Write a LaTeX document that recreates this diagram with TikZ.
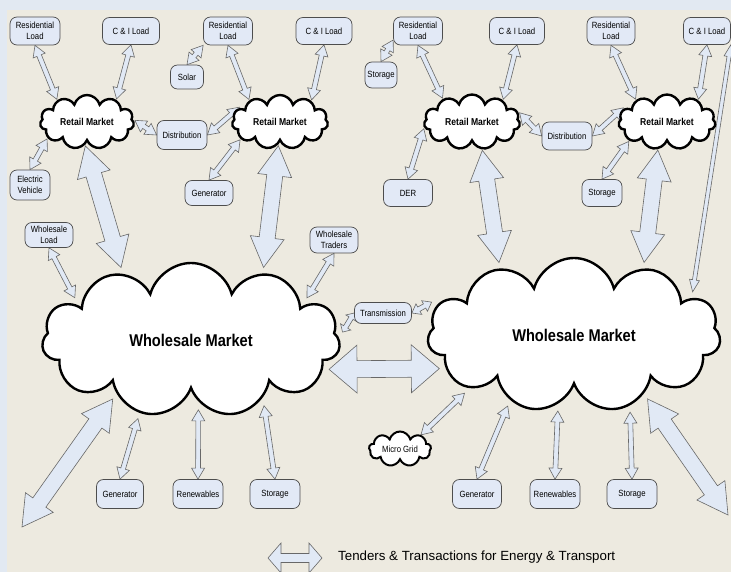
\documentclass[tikz,border=0pt]{standalone}
\usepackage{fontspec}
\setmainfont{Liberation Sans}
\newfontfamily\narrowsf[FakeStretch=0.86]{Liberation Sans}
\usetikzlibrary{calc,shapes.symbols}
\definecolor{paper}{HTML}{EDEAE0}
\definecolor{strip}{HTML}{E2E9F2}
\definecolor{boxfill}{HTML}{E2E9F6}
\definecolor{flowfill}{HTML}{E1E9F5}
\definecolor{edge}{HTML}{4D4D4D}
\pgfdeclarelayer{back}
\pgfdeclarelayer{flows}
\pgfsetlayers{back,flows,main}
% hollow double-headed arrow: from, to, shaft half width, head half width, head length
\newcommand{\flow}[5]{%
  \filldraw[flowline] (#1)
    -- ($(#1)!#5!(#2)!#4!90:(#2)$) -- ($(#1)!#5!(#2)!#3!90:(#2)$)
    -- ($(#2)!#5!(#1)!#3!-90:(#1)$) -- ($(#2)!#5!(#1)!#4!-90:(#1)$)
    -- (#2)
    -- ($(#2)!#5!(#1)!#4!90:(#1)$) -- ($(#2)!#5!(#1)!#3!90:(#1)$)
    -- ($(#1)!#5!(#2)!#3!-90:(#2)$) -- ($(#1)!#5!(#2)!#4!-90:(#2)$) -- cycle;}
\newcommand{\thinflow}[2]{\flow{#1}{#2}{2.4pt}{6.5pt}{11pt}}
\newcommand{\bigflow}[2]{\flow{#1}{#2}{8pt}{17pt}{30pt}}

\begin{document}
\begin{tikzpicture}[x=1pt,y=-1pt,
   box/.style={draw=edge,fill=boxfill,rounded corners=7pt,line width=0.7pt,align=center,
     font=\narrowsf\fontsize{9}{11.5}\selectfont,inner sep=1pt,minimum height=27pt},
   mkt/.style={cloud,cloud puffs=11,cloud ignores aspect,draw=black,line width=2.4pt,fill=white,inner sep=0pt},
   retail/.style={mkt,outer sep=2pt,font=\narrowsf\bfseries\fontsize{10}{12}\selectfont},
   wholesale/.style={mkt,outer sep=7pt,font=\narrowsf\bfseries\fontsize{17}{20}\selectfont},
   flowline/.style={draw=edge!85,fill=flowfill,line width=0.6pt,line join=miter}]
\begin{pgfonlayer}{back}
\fill[paper] (0,0) rectangle (731,572);
\fill[strip] (0,0) rectangle (731,10);
\fill[strip] (0,0) rectangle (7,572);
\end{pgfonlayer}
\useasboundingbox (0,0) rectangle (731,572);
% left side, retail level
\node[box,minimum width=50pt,minimum height=28pt] (resL1) at (35,31) {Residential\\Load};
\node[box,minimum width=57pt] (ciL1) at (131,31) {C \& I Load};
\node[box,minimum width=49pt,minimum height=28pt] (resL2) at (228,31) {Residential\\Load};
\node[box,minimum width=56pt] (ciL2) at (324,31) {C \& I Load};
\node[box,minimum width=33pt,minimum height=24pt] (solar) at (187,77) {Solar};
\node[retail,minimum width=94pt,minimum height=54pt] (retL1) at (87,122) {Retail Market};
\node[retail,minimum width=96pt,minimum height=54pt] (retL2) at (280,122) {Retail Market};
\node[box,minimum width=50pt,minimum height=29pt] (distL) at (182,135) {Distribution};
\node[box,minimum width=40pt,minimum height=30pt] (evL) at (30,185) {Electric\\Vehicle};
\node[box,minimum width=48pt,minimum height=25pt] (genL) at (209,193) {Generator};
\node[box,minimum width=48pt,minimum height=25pt] (whLoad) at (49,235) {Wholesale\\Load};
\node[box,minimum width=48pt,minimum height=26pt] (whTraders) at (334,240) {Wholesale\\Traders};
% right side, retail level
\node[box,minimum width=49pt,minimum height=28pt] (resR1) at (418,31) {Residential\\Load};
\node[box,minimum width=55pt] (ciR1) at (517,31) {C \& I Load};
\node[box,minimum width=48pt,minimum height=28pt] (resR2) at (611,31) {Residential\\Load};
\node[box,minimum width=47pt] (ciR2) at (707,31) {C \& I Load};
\node[box,minimum width=32pt,minimum height=26pt] (stoR1) at (381,75) {Storage};
\node[retail,minimum width=96pt,minimum height=55pt] (retR1) at (472,122) {Retail Market};
\node[retail,minimum width=97pt,minimum height=55pt] (retR2) at (667,122) {Retail Market};
\node[box,minimum width=50pt,minimum height=28pt] (distR) at (567,136) {Distribution};
\node[box,minimum width=49pt] (der) at (408,193) {DER};
\node[box,minimum width=40pt] (stoR2) at (602,193) {Storage};
% wholesale level
\node[wholesale,minimum width=298pt,minimum height=154pt] (whL) at (191,340) {Wholesale Market};
\node[wholesale,minimum width=293pt,minimum height=154pt] (whR) at (574,335) {Wholesale Market};
\node[box,minimum width=57pt,minimum height=21pt] (trans) at (383,313) {Transmission};
\node[mkt,cloud puffs=9,line width=2pt,outer sep=1pt,minimum width=62pt,minimum height=35pt,
      font=\narrowsf\fontsize{9}{11}\selectfont] (microgrid) at (400,449) {Micro Grid};
\node[box,minimum width=47pt,minimum height=29pt] (genLb) at (120,494) {Generator};
\node[box,minimum width=50pt,minimum height=29pt] (renLb) at (198,494) {Renewables};
\node[box,minimum width=50pt,minimum height=29pt] (stoLb) at (275,494) {Storage};
\node[box,minimum width=49pt,minimum height=29pt] (genRb) at (477,494) {Generator};
\node[box,minimum width=50pt,minimum height=29pt] (renRb) at (555,494) {Renewables};
\node[box,minimum width=50pt,minimum height=29pt] (stoRb) at (632,494) {Storage};
\coordinate (endBL) at (22,527);
\coordinate (endBR) at (728,515);
% legend
\coordinate (legA) at (268,558);
\coordinate (legB) at (322,558);
\node[anchor=west,font=\fontsize{13.3}{15}\selectfont,inner sep=0pt] (legtext) at (338,557) {Tenders \& Transactions for Energy \& Transport};
% flows
\begin{pgfonlayer}{flows}
\thinflow{resL1.south}{retL1.143}
\thinflow{ciL1.south}{retL1.38}
\thinflow{solar.north}{resL2.210}
\thinflow{resL2.south}{retL2.144}
\thinflow{ciL2.south}{retL2.35}
\thinflow{retL1.2}{distL.west}
\thinflow{distL.east}{retL2.160}
\thinflow{genL.north}{retL2.204}
\thinflow{retL1.203}{evL.north}
\bigflow{retL1.266}{whL.134}
\bigflow{retL2.266}{whL.45}
\thinflow{whLoad.south}{whL.160}
\thinflow{whTraders.south}{whL.20}
\flow{whL.3}{trans.west}{2.4pt}{6pt}{6pt}
\flow{trans.east}{whR.167}{2.4pt}{6pt}{8pt}
\flow{whL.348}{whR.194}{8.5pt}{24pt}{28pt}
\thinflow{whL.236}{genLb.north}
\thinflow{whL.276}{renLb.north}
\thinflow{whL.318}{stoLb.north}
\bigflow{whL.217}{endBL}
\thinflow{stoR1.north}{resR1.200}
\thinflow{resR1.south}{retR1.141}
\thinflow{ciR1.south}{retR1.36}
\thinflow{retR1.11}{distR.west}
\thinflow{distR.east}{retR2.162}
\thinflow{resR2.south}{retR2.144}
\thinflow{ciR2.south}{retR2.36}
\flow{ciR2.330}{whR.20}{2pt}{5pt}{12pt}
\thinflow{der.north}{retR1.188}
\thinflow{stoR2.north}{retR2.207}
\bigflow{retR1.290}{whR.136}
\bigflow{retR2.252}{whR.46}
\thinflow{microgrid.34}{whR.208}
\thinflow{whR.227}{genRb.north}
\thinflow{whR.258}{renRb.north}
\thinflow{whR.306}{stoRb.north}
\bigflow{whR.319}{endBR}
\flow{legA}{legB}{4.5pt}{15pt}{13pt}
\end{pgfonlayer}
\end{tikzpicture}
\end{document}
